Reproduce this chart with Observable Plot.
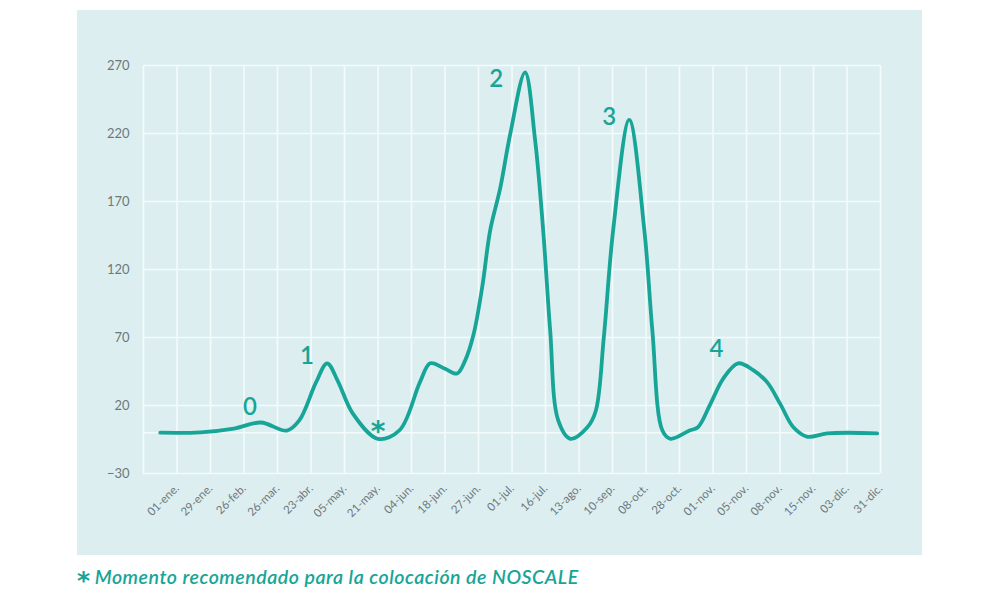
<!DOCTYPE html>
<html>
<head>
<meta charset="utf-8">
<script src="https://cdn.jsdelivr.net/npm/d3@7"></script>
<script src="https://cdn.jsdelivr.net/npm/@observablehq/plot@0.6"></script>
<style>
  html, body { margin: 0; padding: 0; background: #ffffff; }
  body { width: 1000px; height: 600px; position: relative; font-family: Lato, "Open Sans", sans-serif; }
  #panel { position: absolute; left: 77px; top: 10px; width: 845px; height: 545px; background: #ddeef0; }
  #note { position: absolute; left: 77px; top: 565px; color: #17a597; font-size: 19.5px; font-style: italic; font-weight: 600; font-family: Lato, sans-serif; letter-spacing: 0.55px; white-space: nowrap; }
  #note b { font-style: normal; font-weight: bold; font-family: "DejaVu Sans", sans-serif; font-size: 25px; line-height: 10px; margin-right: 4px; position: relative; top: 5px; }
</style>
</head>
<body>
<div id="panel"></div>
<div id="note"><b>*</b>Momento recomendado para la colocación de NOSCALE</div>
<script>
// Category tick labels (ordinal positions 0..21)
const dateLabels = ["01-ene.", "29-ene.", "26-feb.", "26-mar.", "23-abr.", "05-may.", "21-may.", "04-jun.", "18-jun.", "27-jun.", "01-jul.", "16-jul.", "13-ago.", "10-sep.", "08-oct.", "28-oct.", "01-nov.", "05-nov.", "08-nov.", "15-nov.", "03-dic.", "31-dic."];
const yTicks = [-30, 20, 70, 120, 170, 220, 270];

// Curve: position along the category axis, value
const curveX = [-0.5, 0.7, 1.7, 2.5, 3.28, 3.65, 4.15, 4.48, 4.8, 5.25, 6.0, 6.65, 7.25, 7.56, 8.0, 8.36, 8.6, 8.85, 9.11, 9.35, 9.65, 9.95, 10.39, 10.69, 10.93, 11.14, 11.38, 11.74, 12.25, 12.5, 12.74, 13.02, 13.5, 13.95, 14.19, 14.49, 14.73, 15.3, 15.55, 15.92, 16.31, 16.75, 17.2, 17.62, 18.01, 18.4, 18.82, 19.41, 20.9];
const curveY = [0, 0.3, 3, 7.5, 1.6, 9, 37, 51, 38, 14, -4.5, 2, 37, 51, 47, 43.5, 53, 72, 107, 149, 180, 220, 265, 215, 149, 75, 9, -4.5, 4, 16, 70, 149, 230, 149, 75, 1.6, -4.5, 1.6, 4, 21, 40, 51, 46, 37, 21, 4, -3, -0.5, -0.5];

// Annotations
const noteText = ["0", "1", "*", "2", "3", "4"];
const noteX = [2.18, 3.88, 6.0, 9.53, 12.9, 16.1];
const noteY = [19, 56.5, 3, 260, 232, 61];

const points = curveX.map((x, i) => ({x, y: curveY[i]}));
const notes = noteText.map((t, i) => ({t, x: noteX[i], y: noteY[i]}));
const gridX = [-1, ...dateLabels.map((d, i) => i)];
const gridY = [...yTicks, 0];

const teal = "#17a597";
const grid = "#f4fbfb";
const isStar = d => d.t === "*";

const chart = Plot.plot({
  width: 845,
  height: 545,
  marginLeft: 66,
  marginRight: 42,
  marginTop: 55,
  marginBottom: 82,
  style: { background: "transparent", fontFamily: "Lato, 'Open Sans', sans-serif" },
  x: { domain: [-1, 21] },
  y: { domain: [-30, 270] },
  marks: [
    Plot.ruleX(gridX, { x: d => d, y1: -30, y2: 270, stroke: grid, strokeWidth: 1.6 }),
    Plot.ruleY(gridY, { y: d => d, x1: -1, x2: 21, stroke: grid, strokeWidth: 1.6 }),
    Plot.axisY({ ticks: yTicks, tickSize: 0, tickPadding: 14, label: null, fontSize: 13, color: "#6c787c" }),
    Plot.axisX({ ticks: dateLabels.map((d, i) => i), tickFormat: i => dateLabels[i], tickSize: 0, tickPadding: 13, tickRotate: -45, label: null, fontSize: 11.5, color: "#6c787c" }),
    Plot.line(points, { x: "x", y: "y", curve: "catmull-rom", stroke: teal, strokeWidth: 3.8, strokeLinecap: "round", strokeLinejoin: "round" }),
    Plot.text(notes.filter(d => !isStar(d)), { x: "x", y: "y", text: "t", fill: teal, fontSize: 24, fontWeight: 600 }),
    Plot.text(notes.filter(isStar), { x: "x", y: "y", text: "t", fill: teal, fontSize: 28, fontWeight: "bold", fontFamily: "DejaVu Sans", dy: 3 })
  ]
});
document.getElementById("panel").appendChild(chart);
</script>
</body>
</html>
